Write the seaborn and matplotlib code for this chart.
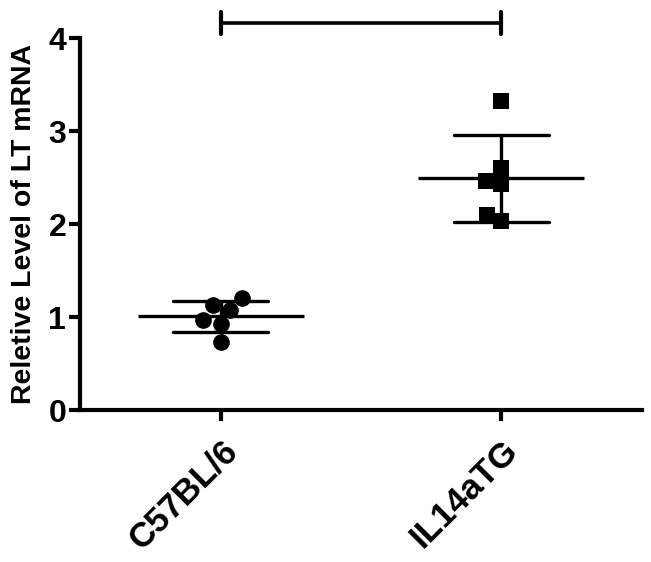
import pandas as pd
import matplotlib.pyplot as plt
import seaborn as sns

# Valores
grupos = ['C57BL/6', 'IL14aTG']
valores_c57 = [1.21, 1.08, 1.13, 0.93, 0.97, 0.73]
valores_il14 = [3.33, 2.61, 2.46, 2.43, 2.10, 2.03]
ticks_y = [0, 1, 2, 3, 4]
barra_sig_y = 4.16
barra_sig_cap = 0.12

df = pd.DataFrame({
    'grupo': [grupos[0]] * len(valores_c57) + [grupos[1]] * len(valores_il14),
    'valor': valores_c57 + valores_il14,
})

sns.set_style('ticks', rc={'axes.edgecolor': 'black', 'xtick.color': 'black',
                           'ytick.color': 'black', 'text.color': 'black',
                           'axes.labelcolor': 'black'})
plt.rcParams['font.family'] = ['Liberation Sans', 'DejaVu Sans']
plt.rcParams['font.weight'] = 'bold'

fig = plt.figure(figsize=(6.51, 5.62), dpi=100)
ax = fig.add_axes([0.123, 0.27, 0.863, 0.662])

# Media y desviación estándar
sns.pointplot(data=df, x='grupo', y='valor', order=grupos, errorbar='sd',
              capsize=0.34, linestyle='none', marker='_', markersize=120,
              markeredgewidth=2.4, color='black',
              err_kws={'linewidth': 2.4}, ax=ax)

# Puntos individuales
sns.swarmplot(data=df[df['grupo'] == grupos[0]], x='grupo', y='valor', order=grupos,
              color='black', marker='o', size=12, ax=ax)
sns.swarmplot(data=df[df['grupo'] == grupos[1]], x='grupo', y='valor', order=grupos,
              color='black', marker='s', size=11, ax=ax)

ax.set_xlim(-0.5, 1.5)
ax.set_ylim(0, 4)
ax.set_yticks(ticks_y)
ax.set_xlabel('')
ax.set_ylabel('Reletive Level of LT mRNA', fontsize=20.5, fontweight='bold', labelpad=8)
ax.tick_params(axis='both', width=3, length=8, pad=2, colors='black')
ax.tick_params(axis='y', labelsize=23)
ax.tick_params(axis='x', labelsize=25, pad=9)
for lab in ax.get_xticklabels():
    lab.set_rotation(45)
    lab.set_ha('right')
    lab.set_rotation_mode('anchor')
    lab.set_fontweight('bold')
for lab in ax.get_yticklabels():
    lab.set_fontweight('bold')

sns.despine(ax=ax)
for s in ['left', 'bottom']:
    ax.spines[s].set_linewidth(3)
    ax.spines[s].set_color('black')

# Barra de significancia
ax.plot([0, 1], [barra_sig_y, barra_sig_y], color='black', lw=2.6, clip_on=False,
        solid_capstyle='butt')
for x in [0, 1]:
    ax.plot([x, x], [barra_sig_y - barra_sig_cap, barra_sig_y + barra_sig_cap],
            color='black', lw=3, clip_on=False, solid_capstyle='round')

fig.savefig('out.png', dpi=100)
